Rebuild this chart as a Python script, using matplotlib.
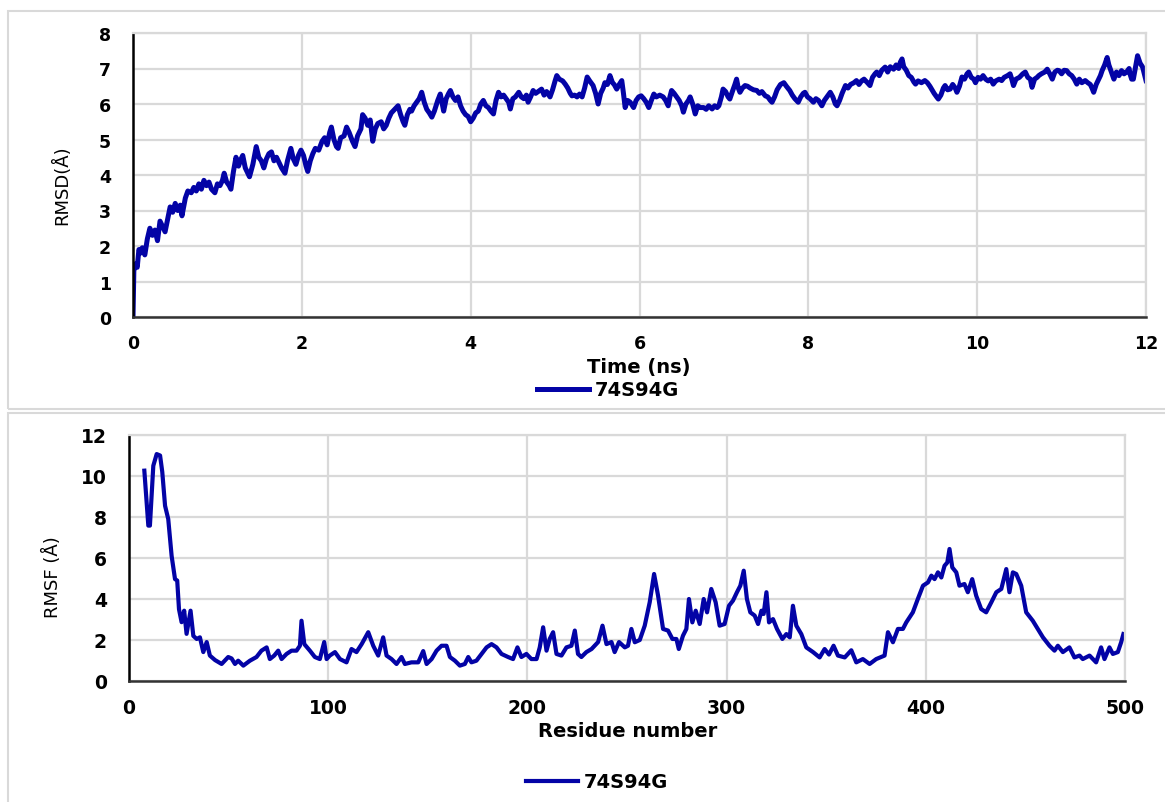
import matplotlib
matplotlib.use("Agg")
import matplotlib.pyplot as plt
from matplotlib.patches import Rectangle

# RMSD trace (time in ns, RMSD in Angstrom)
rmsd_time = [
    0.00, 0.01, 0.03, 0.05, 0.07, 0.09, 0.11, 0.14, 0.17, 0.20, 0.23, 0.26, 0.29, 0.32, 0.35, 0.38,
    0.41, 0.44, 0.47, 0.50, 0.53, 0.56, 0.58, 0.62, 0.65, 0.69, 0.72, 0.75, 0.78, 0.81, 0.84, 0.87,
    0.90, 0.93, 0.97, 1.00, 1.03, 1.06, 1.08, 1.11, 1.14, 1.16, 1.19, 1.22, 1.25, 1.28, 1.30, 1.33,
    1.36, 1.38, 1.42, 1.46, 1.49, 1.52, 1.55, 1.58, 1.61, 1.64, 1.67, 1.70, 1.73, 1.76, 1.80, 1.83,
    1.87, 1.90, 1.93, 1.96, 1.99, 2.02, 2.05, 2.07, 2.10, 2.13, 2.16, 2.20, 2.24, 2.27, 2.30, 2.33,
    2.35, 2.38, 2.41, 2.43, 2.46, 2.50, 2.53, 2.56, 2.60, 2.63, 2.66, 2.70, 2.72, 2.75, 2.78, 2.81,
    2.84, 2.87, 2.90, 2.94, 2.97, 3.00, 3.03, 3.06, 3.10, 3.14, 3.17, 3.20, 3.22, 3.25, 3.28, 3.30,
    3.33, 3.36, 3.39, 3.42, 3.45, 3.48, 3.51, 3.54, 3.57, 3.61, 3.64, 3.66, 3.68, 3.71, 3.74, 3.76,
    3.79, 3.82, 3.85, 3.88, 3.91, 3.94, 3.97, 4.00, 4.03, 4.06, 4.09, 4.12, 4.15, 4.18, 4.21, 4.24,
    4.27, 4.30, 4.33, 4.36, 4.39, 4.42, 4.45, 4.47, 4.50, 4.53, 4.57, 4.60, 4.63, 4.66, 4.68, 4.71,
    4.74, 4.77, 4.80, 4.84, 4.87, 4.90, 4.94, 4.97, 5.00, 5.02, 5.05, 5.09, 5.12, 5.15, 5.18, 5.20,
    5.23, 5.26, 5.29, 5.32, 5.35, 5.38, 5.41, 5.45, 5.48, 5.51, 5.54, 5.57, 5.59, 5.62, 5.65, 5.68,
    5.70, 5.73, 5.76, 5.79, 5.81, 5.83, 5.86, 5.89, 5.93, 5.96, 5.99, 6.02, 6.05, 6.08, 6.11, 6.14,
    6.17, 6.20, 6.24, 6.28, 6.31, 6.34, 6.36, 6.38, 6.41, 6.44, 6.47, 6.50, 6.52, 6.55, 6.58, 6.60,
    6.63, 6.66, 6.69, 6.72, 6.76, 6.79, 6.82, 6.86, 6.89, 6.92, 6.94, 6.97, 6.99, 7.02, 7.05, 7.07,
    7.10, 7.13, 7.15, 7.17, 7.19, 7.22, 7.25, 7.28, 7.31, 7.35, 7.39, 7.42, 7.45, 7.49, 7.52, 7.55,
    7.57, 7.60, 7.63, 7.67, 7.71, 7.74, 7.78, 7.81, 7.84, 7.88, 7.91, 7.94, 7.96, 7.99, 8.02, 8.06,
    8.09, 8.12, 8.16, 8.19, 8.22, 8.26, 8.29, 8.32, 8.34, 8.37, 8.40, 8.44, 8.47, 8.50, 8.54, 8.57,
    8.60, 8.63, 8.66, 8.70, 8.73, 8.76, 8.79, 8.81, 8.84, 8.87, 8.91, 8.94, 8.97, 9.01, 9.04, 9.07,
    9.09, 9.11, 9.13, 9.16, 9.19, 9.22, 9.25, 9.27, 9.30, 9.34, 9.38, 9.41, 9.44, 9.46, 9.49, 9.52,
    9.54, 9.57, 9.60, 9.62, 9.65, 9.68, 9.71, 9.74, 9.76, 9.79, 9.82, 9.85, 9.88, 9.90, 9.93, 9.96,
    9.98, 10.01, 10.04, 10.07, 10.10, 10.13, 10.16, 10.19, 10.22, 10.26, 10.29, 10.32, 10.36, 10.39,
    10.41, 10.43, 10.46, 10.50, 10.54, 10.57, 10.60, 10.63, 10.65, 10.68, 10.71, 10.73, 10.76, 10.80,
    10.83, 10.86, 10.89, 10.92, 10.95, 10.97, 11.00, 11.03, 11.06, 11.09, 11.12, 11.15, 11.18, 11.21,
    11.24, 11.28, 11.31, 11.34, 11.36, 11.38, 11.41, 11.44, 11.46, 11.48, 11.51, 11.54, 11.56, 11.59,
    11.62, 11.65, 11.68, 11.71, 11.74, 11.77, 11.80, 11.81, 11.83, 11.85, 11.88, 11.90, 11.93, 11.96,
    11.98, 12.00,
]
rmsd_val = [
    0.00, 1.30, 1.50, 1.40, 1.90, 1.80, 1.95, 1.75, 2.20, 2.50, 2.30, 2.45, 2.15, 2.70, 2.55, 2.40,
    2.75, 3.10, 2.95, 3.20, 3.00, 3.15, 2.85, 3.35, 3.55, 3.50, 3.65, 3.55, 3.75, 3.60, 3.85, 3.70,
    3.80, 3.60, 3.50, 3.75, 3.70, 3.85, 4.05, 3.80, 3.70, 3.60, 4.10, 4.50, 4.25, 4.45, 4.55, 4.20,
    4.05, 3.95, 4.30, 4.80, 4.50, 4.40, 4.20, 4.45, 4.60, 4.65, 4.40, 4.50, 4.35, 4.20, 4.05, 4.40,
    4.75, 4.45, 4.30, 4.55, 4.70, 4.55, 4.25, 4.10, 4.40, 4.60, 4.75, 4.70, 4.95, 5.05, 4.85, 5.20,
    5.35, 5.00, 4.80, 4.75, 5.05, 5.10, 5.35, 5.20, 4.95, 4.80, 5.10, 5.30, 5.70, 5.60, 5.40, 5.55,
    4.95, 5.30, 5.45, 5.50, 5.30, 5.40, 5.60, 5.75, 5.85, 5.95, 5.70, 5.50, 5.40, 5.70, 5.85, 5.80,
    5.95, 6.05, 6.15, 6.33, 6.05, 5.85, 5.75, 5.63, 5.80, 6.10, 6.28, 6.05, 5.80, 6.15, 6.30, 6.38,
    6.20, 6.10, 6.20, 5.95, 5.80, 5.70, 5.65, 5.50, 5.60, 5.75, 5.80, 6.00, 6.10, 5.95, 5.90, 5.80,
    5.72, 6.10, 6.33, 6.20, 6.25, 6.15, 6.05, 5.86, 6.15, 6.20, 6.33, 6.20, 6.15, 6.25, 6.05, 6.20,
    6.38, 6.30, 6.35, 6.42, 6.25, 6.35, 6.20, 6.40, 6.65, 6.80, 6.70, 6.65, 6.56, 6.45, 6.30, 6.23,
    6.25, 6.20, 6.28, 6.20, 6.45, 6.76, 6.65, 6.52, 6.30, 6.00, 6.30, 6.45, 6.60, 6.55, 6.80, 6.60,
    6.55, 6.42, 6.55, 6.66, 6.30, 5.90, 6.10, 6.05, 5.90, 6.10, 6.20, 6.23, 6.15, 6.05, 5.90, 6.10,
    6.28, 6.20, 6.25, 6.20, 6.10, 5.95, 6.20, 6.38, 6.30, 6.20, 6.10, 5.95, 5.77, 6.00, 6.10, 6.20,
    6.00, 5.72, 5.95, 5.90, 5.90, 5.85, 5.95, 5.86, 5.95, 5.90, 5.95, 6.20, 6.42, 6.35, 6.20, 6.14,
    6.35, 6.55, 6.70, 6.45, 6.33, 6.45, 6.52, 6.50, 6.45, 6.40, 6.38, 6.30, 6.35, 6.23, 6.20, 6.10,
    6.05, 6.20, 6.40, 6.55, 6.60, 6.50, 6.38, 6.25, 6.15, 6.05, 6.20, 6.30, 6.33, 6.20, 6.15, 6.05,
    6.15, 6.10, 5.95, 6.10, 6.20, 6.33, 6.20, 6.00, 5.95, 6.10, 6.30, 6.52, 6.45, 6.55, 6.60, 6.66,
    6.55, 6.65, 6.70, 6.60, 6.52, 6.75, 6.85, 6.90, 6.80, 6.95, 7.04, 6.90, 7.05, 6.98, 7.10, 7.00,
    7.18, 7.27, 7.05, 6.95, 6.80, 6.75, 6.62, 6.56, 6.65, 6.60, 6.66, 6.60, 6.50, 6.42, 6.30, 6.20,
    6.14, 6.25, 6.45, 6.52, 6.40, 6.42, 6.55, 6.45, 6.33, 6.50, 6.76, 6.70, 6.85, 6.90, 6.75, 6.70,
    6.60, 6.75, 6.70, 6.80, 6.70, 6.65, 6.70, 6.56, 6.65, 6.70, 6.66, 6.75, 6.80, 6.85,
    6.70, 6.52, 6.70, 6.75, 6.85, 6.90, 6.75, 6.70, 6.47, 6.70, 6.75, 6.80, 6.85, 6.90,
    6.98, 6.85, 6.70, 6.90, 6.95, 6.94, 6.85, 6.95, 6.94, 6.85, 6.80, 6.70, 6.56, 6.70,
    6.60, 6.66, 6.60, 6.55, 6.45, 6.33, 6.55, 6.70, 6.80, 6.94, 7.10, 7.31, 7.10, 6.90,
    6.70, 6.90, 6.80, 6.94, 6.85, 6.90, 7.00, 6.85, 6.70, 6.70, 7.10, 7.36, 7.15, 7.04,
    6.85, 6.66,
]

# RMSF trace (residue number, RMSF in Angstrom)
rmsf_res = [
    7.7, 9.7, 10.5, 12.2, 13.9, 15.6, 16.7, 18.1, 19.7, 21.4, 23.1, 24.2, 25.1, 26.4, 27.7, 28.9,
    30.9, 32.3, 34.0, 35.6, 37.3, 39.0, 40.6, 43.2, 46.5, 49.8, 51.5, 53.2, 54.8, 57.4, 60.7, 64.0,
    66.5, 69.1, 70.7, 72.9, 74.9, 76.6, 79.1, 81.6, 84.1, 85.8, 86.6, 88.0, 90.8, 93.3, 95.8, 98.0,
    99.2, 100.8, 103.4, 105.9, 109.2, 111.7, 114.2, 116.8, 120.1, 122.6, 125.1, 127.6, 129.3, 131.8,
    134.3, 136.8, 138.5, 141.8, 145.2, 147.7, 149.4, 151.9, 154.4, 156.9, 159.4, 161.1, 163.6, 166.1,
    168.6, 170.3, 171.9, 174.4, 177.0, 179.5, 182.0, 184.5, 187.0, 190.3, 192.8, 195.0, 197.0, 199.5,
    202.0, 204.6, 206.2, 207.9, 209.6, 211.2, 212.9, 214.6, 217.1, 219.6, 222.1, 223.8, 225.4, 227.1,
    229.6, 232.2, 235.5, 237.7, 239.7, 242.2, 243.8, 246.0, 248.9, 250.5, 252.2, 253.9, 256.4, 258.9,
    261.4, 263.6, 265.6, 268.1, 270.6, 272.8, 274.8, 276.0, 278.1, 279.8, 281.1, 282.8, 284.5, 286.5,
    288.5, 290.2, 292.3, 294.5, 296.5, 299.0, 301.2, 303.2, 305.2, 306.9, 308.6, 310.2, 311.9, 314.1,
    315.8, 317.5, 318.6, 320.0, 321.3, 323.3, 325.3, 328.0, 330.0, 331.7, 333.3, 335.0, 337.5, 340.0,
    343.4, 346.7, 349.2, 351.4, 353.7, 355.9, 359.3, 362.6, 365.1, 368.4, 371.8, 375.1, 379.3, 381.0,
    383.5, 386.0, 388.5, 390.2, 393.5, 396.0, 398.6, 401.1, 402.8, 404.4, 406.1, 407.8, 409.4, 410.8,
    411.9, 413.3, 415.3, 416.9, 419.4, 421.1, 423.3, 425.3, 427.8, 430.3, 432.9, 435.4, 437.9, 440.4,
    442.0, 443.7, 445.4, 447.9, 450.4, 453.7, 456.2, 458.8, 462.1, 464.6, 466.3, 468.8, 472.1, 474.6,
    477.2, 478.8, 482.2, 485.5, 488.0, 489.7, 492.2, 493.9, 496.4, 498.1, 499.2,
]
rmsf_val = [
    10.26, 7.58, 7.58, 10.50, 11.07, 11.00, 10.20, 8.55, 7.90, 6.10, 4.97, 4.90, 3.50, 2.87, 3.43, 2.30,
    3.43, 2.20, 2.05, 2.13, 1.41, 1.90, 1.24, 1.02, 0.83, 1.17, 1.10, 0.83, 0.99, 0.75, 0.99, 1.17,
    1.48, 1.64, 1.07, 1.24, 1.48, 1.07, 1.32, 1.48, 1.48, 1.72, 2.94, 1.80, 1.48, 1.17, 1.07, 1.90,
    1.07, 1.24, 1.41, 1.07, 0.91, 1.56, 1.41, 1.80, 2.38, 1.72, 1.24, 2.13, 1.24, 1.07,
    0.83, 1.17, 0.83, 0.91, 0.91, 1.46, 0.83, 1.07, 1.48, 1.72, 1.72, 1.17, 0.99, 0.75,
    0.83, 1.17, 0.91, 0.99, 1.32, 1.64, 1.80, 1.64, 1.32, 1.17, 1.07, 1.64, 1.17, 1.32,
    1.07, 1.07, 1.64, 2.62, 1.48, 2.05, 2.38, 1.32, 1.24, 1.64, 1.72, 2.46, 1.32, 1.17,
    1.41, 1.56, 1.90, 2.70, 1.80, 1.90, 1.41, 1.90, 1.64, 1.72, 2.54, 1.89, 2.00, 2.70,
    3.84, 5.22, 4.16, 2.54, 2.46, 2.05, 2.05, 1.56, 2.21, 2.54, 4.00, 2.86, 3.43, 2.78,
    4.00, 3.35, 4.49, 3.84, 2.70, 2.78, 3.67, 3.92, 4.33, 4.65, 5.38, 4.00, 3.35, 3.19,
    2.78, 3.43, 3.27, 4.33, 2.86, 3.02, 2.54, 2.05, 2.29, 2.13, 3.67, 2.70, 2.29, 1.64,
    1.41, 1.15, 1.56, 1.29, 1.72, 1.24, 1.15, 1.50, 0.91, 1.07, 0.83, 1.07, 1.24, 2.38,
    1.89, 2.54, 2.54, 2.86, 3.35, 4.00, 4.65, 4.81, 5.14, 4.97, 5.30, 5.05, 5.62, 5.78,
    6.44, 5.54, 5.30, 4.65, 4.73, 4.33, 4.97, 4.16, 3.51, 3.35, 3.84, 4.33, 4.49, 5.46,
    4.33, 5.30, 5.22, 4.65, 3.35, 2.94, 2.54, 2.13, 1.72, 1.48, 1.72, 1.41, 1.64, 1.15,
    1.24, 1.07, 1.24, 0.91, 1.64, 1.07, 1.64, 1.32, 1.41, 1.90, 2.29,
]

LINE = "#0303a6"
GRID = "#d9d9d9"

fig = plt.figure(figsize=(11.65, 8.03), dpi=100)

# light chart-area frames, as in the spreadsheet export
fig.patches.append(Rectangle((8 / 1165, 1 - 410 / 803), 1.2, 398 / 803, transform=fig.transFigure,
                             fill=False, edgecolor=GRID, lw=1.5))
fig.patches.append(Rectangle((8 / 1165, -0.1), 1.2, 0.1 + 1 - 414 / 803, transform=fig.transFigure,
                             fill=False, edgecolor=GRID, lw=1.5))


def style_axes(ax, tick_size):
    ax.grid(True, color=GRID, lw=1.6)
    ax.set_axisbelow(True)
    for side in ("top", "right"):
        ax.spines[side].set_color(GRID)
        ax.spines[side].set_linewidth(1.6)
    ax.spines["left"].set_color("black")
    ax.spines["left"].set_linewidth(1.8)
    ax.spines["bottom"].set_color("#333333")
    ax.spines["bottom"].set_linewidth(1.8)
    ax.tick_params(length=0, labelsize=tick_size)
    ax.tick_params(axis="x", pad=12)
    ax.tick_params(axis="y", pad=16)
    for lab in ax.get_xticklabels() + ax.get_yticklabels():
        lab.set_fontweight("bold")


# --- upper panel: RMSD ---
ax1 = fig.add_axes([133 / 1165, 1 - 318 / 803, (1146 - 133) / 1165, (318 - 34) / 803])
ax1.plot(rmsd_time, rmsd_val, color=LINE, lw=3.6, label="74S94G", solid_joinstyle="round")
ax1.set_xlim(0, 12)
ax1.set_ylim(0, 8)
ax1.set_xticks(range(0, 13, 2))
ax1.set_yticks(range(0, 9))
style_axes(ax1, 12.5)
ax1.set_xlabel("Time (ns)", fontsize=14, fontweight="bold", va="center")
ax1.xaxis.set_label_coords(639 / 1165, 1 - 368 / 803, transform=fig.transFigure)
ax1.set_ylabel("RMSD(Å)", fontsize=13, va="center")
ax1.yaxis.set_label_coords(62 / 1165, 1 - 185 / 803, transform=fig.transFigure)
ax1.legend(loc="center", bbox_to_anchor=(608 / 1165, 1 - 391 / 803), bbox_transform=fig.transFigure,
           frameon=False, handlelength=2.7, handletextpad=0.3, borderpad=0,
           prop={"size": 14, "weight": "bold"})

# --- lower panel: RMSF ---
ax2 = fig.add_axes([129 / 1165, 1 - 682 / 803, (1125 - 129) / 1165, (682 - 436) / 803])
ax2.plot(rmsf_res, rmsf_val, color=LINE, lw=3.0, label="74S94G", solid_joinstyle="round")
ax2.set_xlim(0, 500)
ax2.set_ylim(0, 12)
ax2.set_xticks(range(0, 501, 100))
ax2.set_yticks(range(0, 13, 2))
style_axes(ax2, 13.5)
ax2.set_xlabel("Residue number", fontsize=14, fontweight="bold", va="center")
ax2.xaxis.set_label_coords(628 / 1165, 1 - 732 / 803, transform=fig.transFigure)
ax2.set_ylabel("RMSF (Å)", fontsize=13, va="center")
ax2.yaxis.set_label_coords(52 / 1165, 1 - 577 / 803, transform=fig.transFigure)
ax2.legend(loc="center", bbox_to_anchor=(597 / 1165, 1 - 783 / 803), bbox_transform=fig.transFigure,
           frameon=False, handlelength=2.7, handletextpad=0.3, borderpad=0,
           prop={"size": 14, "weight": "bold"})

fig.savefig("out.png", dpi=100)
